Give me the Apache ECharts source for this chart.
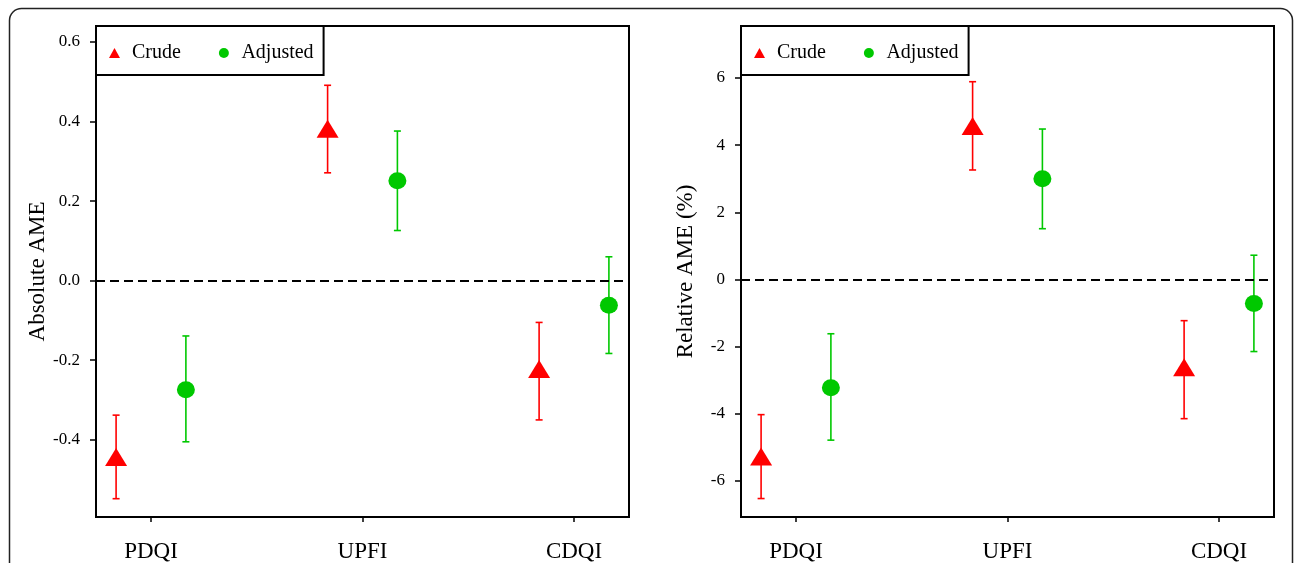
<!DOCTYPE html>
<html>
<head>
<meta charset="utf-8">
<script src="https://cdn.jsdelivr.net/npm/echarts@6/dist/echarts.min.js"></script>
<style>
html,body{margin:0;padding:0;background:#fff;}
#chart{width:1295px;height:563px;}
</style>
</head>
<body>
<div id="chart"></div>
<script>
// ---- data ----
var categories = ['PDQI', 'UPFI', 'CDQI'];
var seriesNames = ['Crude', 'Adjusted'];

var absCrude     = [-0.443, 0.382, -0.222];
var absCrudeLow  = [-0.548, 0.271, -0.350];
var absCrudeHigh = [-0.338, 0.491, -0.105];
var absAdj       = [-0.274, 0.251, -0.062];
var absAdjLow    = [-0.405, 0.126, -0.183];
var absAdjHigh   = [-0.139, 0.376, 0.060];

var relCrude     = [-5.28, 4.57, -2.62];
var relCrudeLow  = [-6.53, 3.26, -4.15];
var relCrudeHigh = [-4.03, 5.89, -1.23];
var relAdj       = [-3.23, 3.00, -0.72];
var relAdjLow    = [-4.79, 1.51, -2.15];
var relAdjHigh   = [-1.62, 4.48, 0.72];

var absTicks = [-0.4, -0.2, 0.0, 0.2, 0.4, 0.6];
var relTicks = [-6, -4, -2, 0, 2, 4, 6];
var catTicks = [1, 2, 3];

// ---- styling / layout ----
var RED = '#ff0000', GREEN = '#00c800';
var FONT = '"Liberation Serif", "Times New Roman", serif';
var OFFSET = 0.165;

function pts(vals, off) {
  return vals.map(function (v, i) { return [i + 1 + off, v]; });
}
function bars(lo, hi, off) {
  return lo.map(function (v, i) { return [i + 1 + off, lo[i], hi[i]]; });
}
function errRender(color) {
  return function (params, api) {
    var x = api.value(0);
    var top = api.coord([x, api.value(2)]);
    var bot = api.coord([x, api.value(1)]);
    var cw = 3.5;
    var st = { stroke: color, lineWidth: 1.6 };
    return {
      type: 'group',
      children: [
        { type: 'line', shape: { x1: top[0], y1: top[1], x2: bot[0], y2: bot[1] }, style: st },
        { type: 'line', shape: { x1: top[0] - cw, y1: top[1], x2: top[0] + cw, y2: top[1] }, style: st },
        { type: 'line', shape: { x1: bot[0] - cw, y1: bot[1], x2: bot[0] + cw, y2: bot[1] }, style: st }
      ]
    };
  };
}

function xAxisCfg(gi) {
  return {
    type: 'value', gridIndex: gi, min: 0.74, max: 3.26,
    splitLine: { show: false },
    axisLine: { show: true, onZero: false, lineStyle: { color: '#000', width: 2 } },
    axisTick: { show: true, length: 5, customValues: catTicks, lineStyle: { color: '#000', width: 1.5 } },
    axisLabel: {
      customValues: catTicks, margin: 23,
      fontFamily: FONT, fontSize: 23, color: '#000',
      formatter: function (v) { return categories[Math.round(v) - 1]; }
    }
  };
}
function yAxisCfg(gi, min, max, ticks, name, fmt, gap) {
  return {
    type: 'value', gridIndex: gi, min: min, max: max,
    name: name, nameLocation: 'middle', nameGap: gap,
    nameTextStyle: { fontFamily: FONT, fontSize: 23, color: '#000' },
    splitLine: { show: false },
    axisLine: { show: true, onZero: false, lineStyle: { color: '#000', width: 2 } },
    axisTick: { show: true, length: 6, customValues: ticks, lineStyle: { color: '#000', width: 1.5 } },
    axisLabel: {
      customValues: ticks, margin: 16,
      fontFamily: FONT, fontSize: 17, color: '#000',
      formatter: fmt
    }
  };
}
function legendCfg(left) {
  return {
    left: left, top: 26,
    orient: 'horizontal',
    data: seriesNames,
    itemWidth: 11, itemHeight: 10, itemGap: 38,
    padding: [17, 10, 12, 13],
    borderColor: '#000', borderWidth: 2,
    backgroundColor: '#fff',
    textStyle: { fontFamily: FONT, fontSize: 20, color: '#000', padding: [0, 0, 0, 7] }
  };
}
function zeroLine() {
  return {
    silent: true, symbol: 'none', label: { show: false },
    lineStyle: { color: '#000', type: [9, 5], width: 2 },
    data: [{ yAxis: 0 }]
  };
}
function seriesFor(gi, crude, cLo, cHi, adj, aLo, aHi) {
  return [
    { type: 'custom', name: 'errCrude' + gi, xAxisIndex: gi, yAxisIndex: gi,
      data: bars(cLo, cHi, -OFFSET), renderItem: errRender(RED), z: 2, silent: true },
    { type: 'custom', name: 'errAdj' + gi, xAxisIndex: gi, yAxisIndex: gi,
      data: bars(aLo, aHi, OFFSET), renderItem: errRender(GREEN), z: 2, silent: true },
    { type: 'scatter', name: 'Crude', xAxisIndex: gi, yAxisIndex: gi,
      symbol: 'triangle', symbolSize: [22, 18], itemStyle: { color: RED, opacity: 1 },
      data: pts(crude, -OFFSET), z: 3, markLine: zeroLine() },
    { type: 'scatter', name: 'Adjusted', xAxisIndex: gi, yAxisIndex: gi,
      symbol: 'circle', symbolSize: [18, 17], itemStyle: { color: GREEN, opacity: 1 },
      data: pts(adj, OFFSET), z: 3 }
  ];
}

var chart = echarts.init(document.getElementById('chart'), null, { renderer: 'canvas' });
var option = {
  backgroundColor: '#fff',
  animation: false,
  graphic: [{
    type: 'rect', silent: true, z: -10,
    shape: { x: 9.5, y: 8.5, width: 1283, height: 620, r: 12 },
    style: { fill: 'none', stroke: '#222', lineWidth: 1.5 }
  }],
  grid: [
    { left: 96, top: 26, right: 666, bottom: 46, show: true, borderColor: '#000', borderWidth: 2 },
    { left: 741, top: 26, right: 21, bottom: 46, show: true, borderColor: '#000', borderWidth: 2 }
  ],
  legend: [legendCfg(96), legendCfg(741)],
  xAxis: [xAxisCfg(0), xAxisCfg(1)],
  yAxis: [
    yAxisCfg(0, -0.594, 0.64, absTicks, 'Absolute AME', function (v) { return v.toFixed(1); }, 44),
    yAxisCfg(1, -7.08, 7.55, relTicks, 'Relative AME (%)', function (v) { return String(Math.round(v)); }, 44)
  ],
  series: [].concat(
    seriesFor(0, absCrude, absCrudeLow, absCrudeHigh, absAdj, absAdjLow, absAdjHigh),
    seriesFor(1, relCrude, relCrudeLow, relCrudeHigh, relAdj, relAdjLow, relAdjHigh)
  )
};
chart.setOption(option);
</script>
</body>
</html>
